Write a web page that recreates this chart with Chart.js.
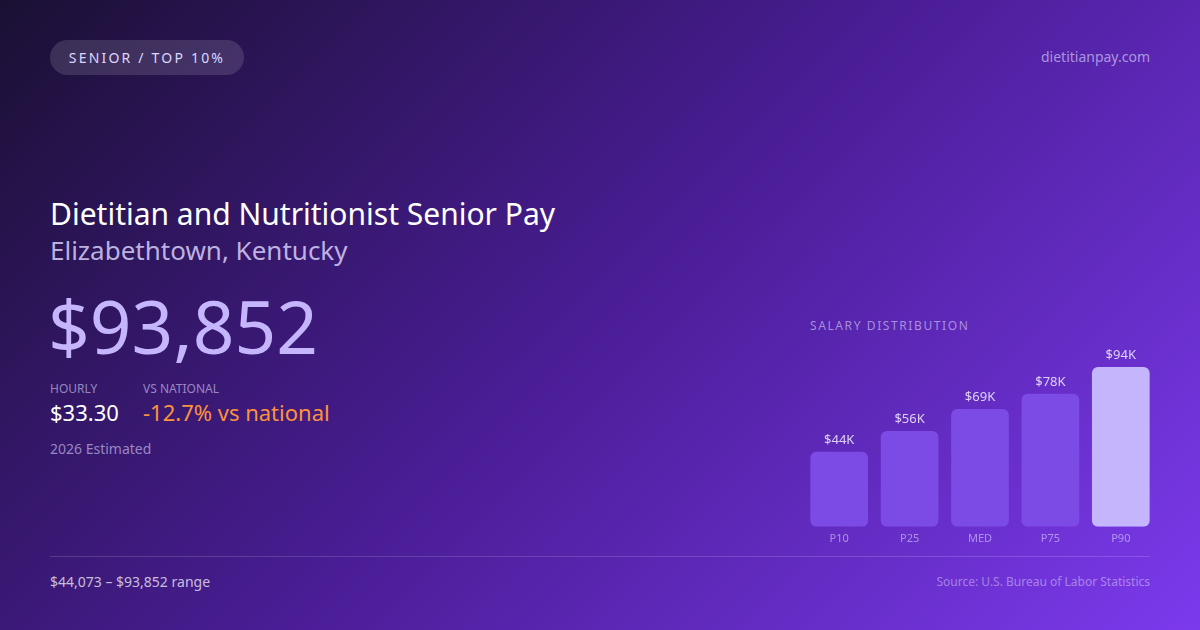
<!DOCTYPE html>
<html>
<head>
<meta charset="utf-8">
<script src="https://cdn.jsdelivr.net/npm/chart.js@4.4.1/dist/chart.umd.min.js"></script>
<style>
  html, body { margin: 0; padding: 0; }
  body {
    width: 1200px; height: 630px; overflow: hidden; position: relative;
    font-family: "Noto Sans", "Open Sans", sans-serif;
    background: linear-gradient(135deg, #1a1033 0%, #4a1d96 50%, #7c3aed 100%);
    color: #fff;
  }
  .abs { position: absolute; white-space: nowrap; }
  .pill {
    left: 50px; top: 40px; height: 35px; width: 194px; border-radius: 18px;
    background: rgba(255,255,255,0.13); color: #ddd6fe;
    font-size: 14px; letter-spacing: 2.2px; line-height: 35px; text-align: center;
  }
  .site { right: 50px; top: 47px; font-size: 14px; color: rgba(221,214,254,0.65); }
  .title { left: 50px; top: 193px; font-size: 30px; color: #fff; }
  .sub { left: 50px; top: 232px; font-size: 26px; color: rgba(221,214,254,0.82); }
  .big { left: 48px; top: 282px; font-size: 73px; color: #c4b5fd; line-height: 1.2; }
  .lbl { top: 380px; font-size: 12px; color: rgba(221,214,254,0.6); }
  .val { top: 397px; font-size: 22px; }
  .est { left: 50px; top: 439px; font-size: 14px; color: rgba(221,214,254,0.6); }
  .rule { left: 50px; top: 556px; width: 1100px; height: 1px; background: rgba(255,255,255,0.15); }
  .range { left: 50px; top: 572px; font-size: 14px; color: rgba(255,255,255,0.72); }
  .src { right: 50px; top: 573px; font-size: 12px; color: rgba(255,255,255,0.4); }
  .dist { left: 810px; top: 317px; font-size: 12px; letter-spacing: 1.6px; color: rgba(221,214,254,0.6); }
  #wrap { position: absolute; left: 804px; top: 347px; width: 352px; height: 203px; }
</style>
</head>
<body>
<div class="abs pill">SENIOR / TOP 10%</div>
<div class="abs site">dietitianpay.com</div>
<div class="abs title">Dietitian and Nutritionist Senior Pay</div>
<div class="abs sub">Elizabethtown, Kentucky</div>
<div class="abs big">$93,852</div>
<div class="abs lbl" style="left:50px">HOURLY</div>
<div class="abs lbl" style="left:143px">VS NATIONAL</div>
<div class="abs val" style="left:50px;color:#fff">$33.30</div>
<div class="abs val" style="left:143px;color:#fb923c">-12.7% vs national</div>
<div class="abs est">2026 Estimated</div>
<div class="abs dist">SALARY DISTRIBUTION</div>
<div id="wrap"><canvas id="chart"></canvas></div>
<div class="abs rule"></div>
<div class="abs range">$44,073 – $93,852 range</div>
<div class="abs src">Source: U.S. Bureau of Labor Statistics</div>
<script>
// percentile labels and salary values
const percentiles = ["P10", "P25", "MED", "P75", "P90"];
const salaries = [44073, 56300, 69200, 78100, 93852];
const barColors = ["#7c4ae4", "#7c4ae4", "#7c4ae4", "#7c4ae4", "#c4b5fd"];

//draws "$44K" style labels above each bar
const valueLabels = {
  id: "valueLabels",
  afterDatasetsDraw(chart) {
    const ctx = chart.ctx;
    const meta = chart.getDatasetMeta(0);
    ctx.save();
    ctx.font = "13px 'Noto Sans'";
    ctx.fillStyle = "rgba(255,255,255,0.78)";
    ctx.textAlign = "center";
    ctx.textBaseline = "bottom";
    meta.data.forEach((bar, i) => {
      ctx.fillText("$" + Math.round(salaries[i] / 1000) + "K", bar.x, bar.y - 5);
    });
    ctx.restore();
  },
};

new Chart(document.getElementById("chart"), {
  type: "bar",
  plugins: [valueLabels],
  data: {
    labels: percentiles,
    datasets: [
      {
        data: salaries,
        backgroundColor: barColors,
        borderRadius: 6,
        borderSkipped: false,
        categoryPercentage: 1,
        barPercentage: 0.82,
      },
    ],
  },
  options: {
    responsive: true,
    maintainAspectRatio: false,
    animation: false,
    layout: { padding: 0 },
    plugins: { legend: { display: false }, tooltip: { enabled: false } },
    scales: {
      x: {
        grid: { display: false, drawTicks: false },
        border: { display: false },
        ticks: {
          color: "rgba(221,214,254,0.6)",
          font: { family: "Noto Sans", size: 11 },
          padding: 5,
        },
      },
      y: { display: false, min: 0, max: 105580 },
    },
  },
});
</script>
</body>
</html>
